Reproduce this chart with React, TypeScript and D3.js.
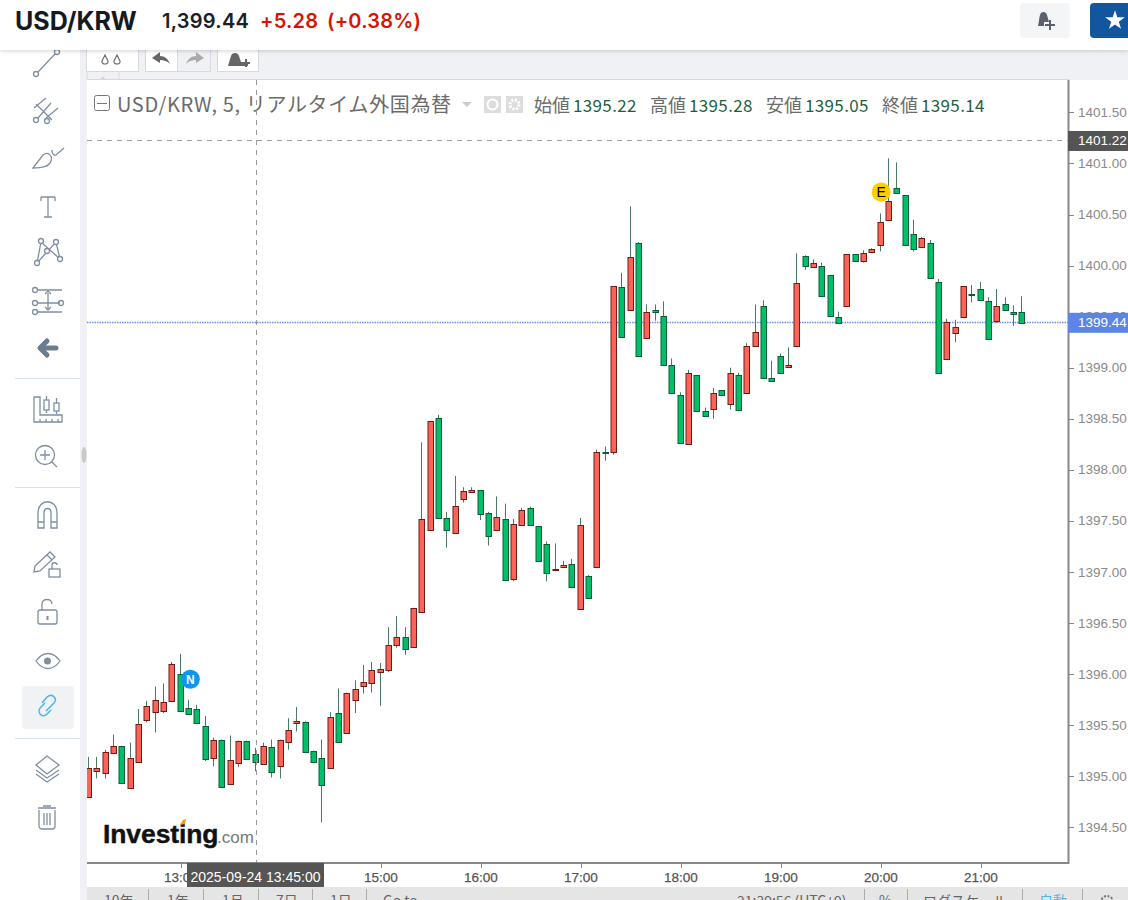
import * as d3 from 'd3';
import React from 'react';

const opens = [
  1394.80, 1395.05, 1395.03, 1395.23, 1395.30, 1394.89, 1395.14, 1395.55, 1395.63, 1395.64,
  1395.74, 1396.00, 1395.67, 1395.66, 1395.49, 1395.18, 1395.36, 1394.93, 1395.13, 1395.35,
  1395.22, 1395.12, 1395.29, 1395.10, 1395.34, 1395.52, 1395.53, 1395.25, 1395.18, 1395.08,
  1395.62, 1395.42, 1395.75, 1395.88, 1395.91, 1396.02, 1396.04, 1396.29, 1396.36, 1396.27,
  1396.61, 1397.41, 1398.51, 1397.53, 1397.38, 1397.72, 1397.78, 1397.80, 1397.58, 1397.41,
  1397.52, 1396.93, 1397.46, 1397.63, 1397.45, 1397.27, 1397.02, 1397.05, 1397.08, 1396.64,
  1396.96, 1397.05, 1398.18, 1398.18, 1399.79, 1399.57, 1400.22, 1399.29, 1399.57, 1399.51,
  1399.03, 1398.73, 1398.25, 1398.93, 1398.58, 1398.60, 1398.78, 1398.65, 1398.93, 1398.75,
  1399.21, 1399.60, 1398.90, 1399.12, 1399.01, 1399.21, 1400.09, 1399.99, 1400.00, 1399.91,
  1399.50, 1399.60, 1400.11, 1400.05, 1400.13, 1400.20, 1400.45, 1400.76, 1400.69, 1400.31,
  1400.18, 1400.22, 1399.84, 1399.09, 1399.34, 1399.50, 1399.72, 1399.77, 1399.65, 1399.46,
  1399.62, 1399.55, 1399.55,
];
const highs = [
  1395.19, 1395.19, 1395.26, 1395.41, 1395.30, 1395.33, 1395.66, 1395.74, 1395.88, 1395.91,
  1396.12, 1396.20, 1395.75, 1395.70, 1395.59, 1395.38, 1395.36, 1395.40, 1395.35, 1395.35,
  1395.28, 1395.33, 1395.36, 1395.36, 1395.57, 1395.68, 1395.54, 1395.25, 1395.36, 1395.63,
  1395.86, 1395.82, 1395.94, 1396.09, 1396.12, 1396.11, 1396.46, 1396.57, 1396.46, 1396.65,
  1398.27, 1398.48, 1398.54, 1397.59, 1397.94, 1397.83, 1397.83, 1397.80, 1397.59, 1397.74,
  1397.67, 1397.52, 1397.63, 1397.64, 1397.45, 1397.30, 1397.28, 1397.11, 1397.13, 1397.53,
  1396.97, 1398.20, 1398.23, 1399.80, 1399.93, 1400.58, 1400.23, 1399.62, 1399.62, 1399.65,
  1399.09, 1398.76, 1398.98, 1398.93, 1398.61, 1398.80, 1398.78, 1399.00, 1398.95, 1399.24,
  1399.62, 1399.66, 1399.07, 1399.14, 1399.20, 1400.12, 1400.10, 1400.06, 1400.03, 1399.91,
  1399.55, 1400.11, 1400.11, 1400.15, 1400.17, 1400.51, 1401.05, 1401.01, 1400.69, 1400.45,
  1400.28, 1400.25, 1399.87, 1399.48, 1399.47, 1399.80, 1399.81, 1399.84, 1399.69, 1399.77,
  1399.69, 1399.61, 1399.70,
];
const lows = [
  1394.80, 1394.98, 1394.98, 1395.22, 1394.93, 1394.89, 1395.14, 1395.53, 1395.43, 1395.62,
  1395.74, 1395.64, 1395.61, 1395.52, 1395.15, 1395.10, 1394.90, 1394.93, 1395.09, 1395.17,
  1395.05, 1395.12, 1394.99, 1394.98, 1395.26, 1395.44, 1395.24, 1395.13, 1394.55, 1395.08,
  1395.34, 1395.42, 1395.62, 1395.81, 1395.82, 1395.69, 1396.02, 1396.26, 1396.19, 1396.27,
  1396.61, 1397.41, 1397.53, 1397.24, 1397.38, 1397.68, 1397.78, 1397.51, 1397.26, 1397.41,
  1396.92, 1396.91, 1397.46, 1397.46, 1397.11, 1396.91, 1397.02, 1397.05, 1396.85, 1396.64,
  1396.75, 1397.05, 1398.09, 1398.15, 1399.29, 1399.57, 1399.12, 1399.29, 1399.46, 1399.03,
  1398.75, 1398.26, 1398.25, 1398.58, 1398.53, 1398.50, 1398.73, 1398.59, 1398.59, 1398.75,
  1399.21, 1398.90, 1398.87, 1398.95, 1399.01, 1399.21, 1399.96, 1399.99, 1399.70, 1399.51,
  1399.43, 1399.60, 1400.05, 1400.03, 1400.13, 1400.14, 1400.45, 1400.71, 1400.20, 1400.14,
  1400.17, 1399.88, 1398.95, 1399.09, 1399.25, 1399.50, 1399.64, 1399.66, 1399.28, 1399.44,
  1399.57, 1399.41, 1399.44,
];
const closes = [
  1395.08, 1395.08, 1395.24, 1395.30, 1394.94, 1395.18, 1395.51, 1395.69, 1395.75, 1395.73,
  1396.10, 1395.64, 1395.61, 1395.52, 1395.17, 1395.36, 1394.90, 1395.16, 1395.35, 1395.17,
  1395.14, 1395.30, 1395.04, 1395.36, 1395.45, 1395.54, 1395.24, 1395.14, 1394.92, 1395.58,
  1395.34, 1395.82, 1395.86, 1395.92, 1396.04, 1396.05, 1396.29, 1396.36, 1396.25, 1396.65,
  1397.52, 1398.48, 1397.53, 1397.41, 1397.65, 1397.79, 1397.80, 1397.57, 1397.35, 1397.54,
  1396.92, 1397.47, 1397.61, 1397.46, 1397.11, 1396.99, 1397.03, 1397.07, 1396.85, 1397.46,
  1396.75, 1398.18, 1398.17, 1399.80, 1399.30, 1400.08, 1399.12, 1399.55, 1399.55, 1399.03,
  1398.75, 1398.26, 1398.95, 1398.58, 1398.53, 1398.75, 1398.73, 1398.95, 1398.59, 1399.21,
  1399.35, 1398.90, 1398.87, 1398.95, 1399.03, 1399.83, 1400.00, 1400.03, 1399.70, 1399.51,
  1399.44, 1400.11, 1400.05, 1400.12, 1400.16, 1400.43, 1400.63, 1400.71, 1400.20, 1400.16,
  1400.27, 1399.88, 1398.95, 1399.45, 1399.40, 1399.80, 1399.71, 1399.66, 1399.28, 1399.60,
  1399.57, 1399.53, 1399.44,
];

const legendLabels = ['始値', '高値', '安値', '終値'];
const legendValues = ['1395.22', '1395.28', '1395.05', '1395.14'];
const legendX = [534, 650, 766, 882];
const rangeLabels = ['10年', '1年', '1月', '7日', '1日', 'Go to...'];
const rangeLabelX = [104, 167, 222, 276, 330, 383];
const rangeDividers = [148, 203, 258, 312, 366];
const statusDividers = [864, 907, 1022, 1082];

const currentPrice = 1399.44;
const crossPrice = 1401.22;
const day = (h: number, m = 0) => new Date(2025, 8, 24, h, m);
const crossTime = day(13, 45);
const newsTime = day(13, 0);
const earningsTime = day(20, 5);

const times = d3.timeMinute.every(5)!.range(day(12, 5), day(21, 30));

const left = 87;
const right = 1069;
const top = 80;
const bottom = 863;

const x = d3.scaleTime().domain([day(12), day(22)]).range([80.8, 1080.8]);
const y = d3.scaleLinear().domain([1394.152, 1401.817]).range([bottom, top]);
const fmtTime = d3.timeFormat('%H:%M');
const fmtFull = d3.timeFormat('%Y-%m-%d %H:%M:%S');

const UI = 'Inter, Roboto, sans-serif';
const AXIS = '"Liberation Sans", Arial, sans-serif';
const JP = '"Noto Sans CJK JP", "Noto Sans", sans-serif';
const SLATE = '#7f8fa1';

const line = { fill: 'none', stroke: SLATE, strokeWidth: 1.3 };

function SideIcons() {
  return (
    <g>
      <g {...line}>
        <path d="M38 72 L55 54" />
        <circle cx="36" cy="74" r="2.5" />
        <circle cx="57" cy="52" r="2.5" />
      </g>
      <g {...line}>
        <path d="M38 118 L51 103 M34 108 L46 98 M36 104 L52 120 M46 118 L58 108" />
        <circle cx="36" cy="120" r="2.5" />
        <circle cx="47" cy="121" r="2.5" />
      </g>
      <g {...line}>
        <path d="M33 168 L43 155 C48 151 53 156 51 161 C49 167 42 168 33 168 Z M52 150 C52 154 54 156 56 155 L64 148" />
      </g>
      <g {...line}>
        <path d="M41 197 H55 M41 197 V201 M55 197 V201 M48 197 V217 M44 217 H52" />
      </g>
      <g {...line}>
        <path d="M37 263 L41 242 L60 259 L56 242 L37 263" />
        <circle cx="37" cy="263" r="2.5" fill="#fff" />
        <circle cx="41" cy="241" r="2.5" fill="#fff" />
        <circle cx="60" cy="259" r="2.5" fill="#fff" />
        <circle cx="56" cy="242" r="2.5" fill="#fff" />
        <circle cx="47" cy="251" r="2.5" fill="#fff" />
      </g>
      <g {...line}>
        <path d="M38 290 H62 M38 303 H60 M38 312 H62 M48 293 V309" />
        <circle cx="35" cy="290" r="2.5" />
        <circle cx="35" cy="303" r="2.5" />
        <circle cx="35" cy="312" r="2.5" />
        <circle cx="61" cy="303" r="2.5" />
        <path d="M45 294 L48 291 L51 294 M45 307 L48 310 L51 307" />
      </g>
      <path d="M41 348 H56" stroke="#6a7d90" strokeWidth="5" strokeLinecap="round" />
      <path d="M47 341 L40 348 L47 355" fill="none" stroke="#6a7d90" strokeWidth="5" strokeLinecap="round" strokeLinejoin="round" />
      <g {...line}>
        <path d="M34 397 V422 H62 V415 H40 V397 Z M40 422 V419 M46 422 V419 M52 422 V419 M58 422 V419" />
        <rect x="44" y="400" width="5" height="10" />
        <rect x="54" y="403" width="5" height="8" />
        <path d="M46.5 396 V400 M46.5 410 V413 M56.5 398 V403 M56.5 411 V414" />
      </g>
      <g {...line}>
        <circle cx="45" cy="455" r="9.5" />
        <path d="M52 462 L57 467 M40 455 H50 M45 450 V460" />
      </g>
      <g {...line}>
        <path d="M38 528 V513 C38 498 57 498 57 513 V528 H51 V513 C51 507 44 507 44 513 V528 Z M38 522 H44 M51 522 H57" />
      </g>
      <g {...line}>
        <path d="M35 566 L50 552 L55 557 L40 571 L34 572 Z M47 555 L52 560" />
        <rect x="49" y="569" width="11" height="8" />
        <path d="M52 569 V565 C52 562 57 562 57 565" />
      </g>
      <g {...line}>
        <rect x="38" y="610" width="19" height="14" rx="2" />
        <path d="M42 610 V604 C42 598 52 598 52 604" />
      </g>
      <rect x="46.5" y="616" width="2" height="4" fill={SLATE} />
      <g {...line}>
        <path d="M36 661 C43 651 53 651 60 661 C53 671 43 671 36 661 Z" />
      </g>
      <circle cx="47.5" cy="661" r="3.5" fill={SLATE} />
      <rect x="22" y="686" width="52" height="43" rx="3" fill="#f1f2f4" />
      <g fill="none" stroke="#4db4ec" strokeWidth="1.5">
        <path d="M45 703 L41 707 C36 712 42 719 47 714 L51 710" />
        <path d="M46 711 L54 703 C58 698 52 693 47 697 L42 703" />
      </g>
      <g {...line}>
        <path d="M47 756 L59 765 L47 774 L36 765 Z M36 770 L47 778 L59 770 M36 774 L47 782 L59 774" />
      </g>
      <g {...line}>
        <path d="M39 810 V826 C39 828 41 829 42 829 H52 C54 829 55 828 55 826 V810 M38 808 H56 M43 806 H51 M44 813 V825 M47 813 V825 M50 813 V825" />
      </g>
    </g>
  );
}

function Header() {
  return (
    <g>
      <rect x="0" y="0" width="1128" height="50" fill="#fff" filter="url(#barShadow)" />
      <text x="15" y="30" fontFamily={UI} fontSize="25" fontWeight="700" fill="#141a20">USD/KRW</text>
      <text x="162" y="28" fontFamily={UI} fontSize="20" fontWeight="600" letterSpacing="0.25" fill="#1c2026">1,399.44</text>
      <text x="260" y="28" fontFamily={UI} fontSize="20" fontWeight="600" letterSpacing="0.2" fill="#d91400">+5.28</text>
      <text x="327" y="28" fontFamily={UI} fontSize="20" fontWeight="600" letterSpacing="0.2" fill="#d91400">(+0.38%)</text>
      <rect x="1020" y="3" width="50" height="35" rx="4" fill="#f4f5f6" />
      <path d="M1038 26 C1039 22 1039 18 1040 15 C1041 11 1046 11 1047 15 L1049 22 L1044 22 V26 Z" fill="#5a6070" />
      <path d="M1045 25 H1055 M1050 20 V30" stroke="#5a6070" strokeWidth="2" />
      <rect x="1090" y="3" width="60" height="35" rx="4" fill="#1256a0" />
      <path d={d3.symbol(d3.symbolStar, 120)() || ''} transform="translate(1115,20.5)" fill="#fff" />
    </g>
  );
}

function Toolbar() {
  return (
    <g>
      <rect x="80" y="50" width="1048" height="30" fill="#f0f1f5" />
      <rect x="80" y="50" width="7" height="850" fill="#f0f1f5" />
      <g fill="#fff" stroke="#d8dade">
        <rect x="86.5" y="44" width="52" height="27.5" />
        <rect x="145.5" y="44" width="32" height="27.5" />
        <rect x="177.5" y="44" width="33" height="27.5" fill="#f0f1f5" />
        <rect x="217.5" y="44" width="41" height="27.5" />
        <path d="M87 72 V80 M119 72 V80" fill="none" />
      </g>
      <path d="M100 80 L103 76 L106 80 Z" fill="#d4d6da" />
      <path d="M105 55 L102 61 C101 65 109 65 108 61 Z M117 55 L114 61 C113 65 121 65 120 61 Z" fill="none" stroke="#6d6d6d" strokeWidth="1.2" />
      <path d="M152 58 L160 52 V56 C165 56 168 59 170 64 C167 61 164 60 160 60 V63 Z" fill="#666" />
      <path d="M204 58 L196 52 V56 C191 56 188 59 186 64 C189 61 192 60 196 60 V63 Z" fill="#aaa" />
      <path d="M228 66 L231 56 C232 52 238 52 239 56 L241 62 H248 V66 Z" fill="#666" />
      <path d="M242 63 H250 M246 59 V67" stroke="#666" strokeWidth="2" />
    </g>
  );
}

function Candles() {
  return (
    <g clipPath="url(#plot)">
      {times.map((t, i) => {
        const cx = Math.round(x(t)) - 0.5;
        const up = closes[i] >= opens[i];
        const y0 = Math.round(y(Math.max(opens[i], closes[i]))) + 0.5;
        const y1 = Math.round(y(Math.min(opens[i], closes[i]))) + 0.5;
        return (
          <g key={i}>
            <line x1={cx} x2={cx} y1={y(highs[i])} y2={y(lows[i])} stroke="#4a7a63" />
            <rect
              x={cx - 2.5}
              y={y0}
              width={5.5}
              height={Math.max(y1 - y0, 1)}
              fill={up ? '#ff6358' : '#00c067'}
              stroke={up ? '#6e1c17' : '#0b5c38'}
            />
          </g>
        );
      })}
    </g>
  );
}

function App() {
  const ticks = y.ticks(15);
  const hours = x.ticks(d3.timeHour.every(1)!).filter(t => x(t) > left && x(t) < right);
  return (
    <svg width="1128" height="900" style={{ position: 'fixed', left: 0, top: 0, background: '#fff' }}>
      <defs>
        <clipPath id="plot">
          <rect x={left} y={top} width={right - left} height={bottom - top} />
        </clipPath>
        <filter id="barShadow" x="-5%" y="-20%" width="110%" height="150%">
          <feDropShadow dx="0" dy="1" stdDeviation="2" floodColor="#000" floodOpacity="0.18" />
        </filter>
      </defs>

      <Toolbar />
      <rect x={left} y={top} width={right - left} height={bottom - top} fill="#fff" />
      <path d={`M${left} ${top - 0.5} H${right}`} stroke="#d6d8dc" />

      {/* side tools */}
      <SideIcons />
      {[378, 487, 738].map(s => (
        <path key={s} d={`M15 ${s + 0.5} H80`} stroke="#d5e3ec" />
      ))}
      <ellipse cx="84" cy="455" rx="2.5" ry="8" fill="#c9c9c9" />

      {/* legend */}
      <rect x="94.5" y="95.5" width="15" height="15" rx="2" fill="none" stroke="#777" />
      <path d="M97 103.5 H107" stroke="#777" />
      <text x="117" y="112" fontFamily={JP} fontSize="20" letterSpacing="0.65" fill="#6b6b6b">USD/KRW, 5, リアルタイム外国為替</text>
      <path d="M462 102 H472 L467 107 Z" fill="#ccc" />
      <rect x="484" y="96" width="17" height="17" fill="#ddd" />
      <circle cx="492.5" cy="104.5" r="5" fill="none" stroke="#fff" strokeWidth="2" />
      <rect x="506" y="96" width="17" height="17" fill="#ddd" />
      <circle cx="514.5" cy="104.5" r="4.5" fill="none" stroke="#fff" strokeWidth="3" strokeDasharray="2 1.5" />
      {legendLabels.map((label, i) => (
        <g key={label}>
          <text x={legendX[i]} y="112" fontFamily={JP} fontSize="18" fill="#6b6b6b">{label}</text>
          <text x={legendX[i] + 39} y="112" fontFamily={JP} fontSize="17" letterSpacing="0.35" fill="#1f5f3f">{legendValues[i]}</text>
        </g>
      ))}

      {/* crosshair and current price, under the candles */}
      <line x1={left} x2={right} y1={Math.floor(y(currentPrice)) + 0.5} y2={Math.floor(y(currentPrice)) + 0.5} stroke="#6f8fe8" strokeWidth="1.4" strokeDasharray="1.5 1" />
      <Candles />
      <line x1={left} x2={right} y1={Math.floor(y(crossPrice)) + 0.5} y2={Math.floor(y(crossPrice)) + 0.5} stroke="#a0a0a0" strokeDasharray="5 5" />
      <line x1={Math.round(x(crossTime)) + 0.5} x2={Math.round(x(crossTime)) + 0.5} y1={top} y2={bottom} stroke="#999" strokeDasharray="5 5" />

      {/* event markers */}
      <circle cx={x(newsTime) + 9.5} cy={y(1395.95)} r="9.5" fill="#0d96f0" />
      <text x={x(newsTime) + 9.5} y={y(1395.95) + 4.5} textAnchor="middle" fontFamily={AXIS} fontSize="12" fontWeight="700" fill="#fff">N</text>
      <circle cx={x(earningsTime) - 8} cy={y(1400.72)} r="9.5" fill="#ffcc00" />
      <text x={x(earningsTime) - 8} y={y(1400.72) + 5} textAnchor="middle" fontFamily={AXIS} fontSize="14" fill="#000">E</text>

      {/* logo */}
      <text x="103" y="843" fontFamily={AXIS} fontSize="26.5" fontWeight="700" letterSpacing="-0.1" stroke="#111" strokeWidth="0.4" fill="#111">Investing</text>
      <text x="217" y="843" fontFamily={AXIS} fontSize="17" fill="#777">.com</text>
      <path d="M180 825 L183 820 L186 819 L185 824 Z" fill="#f90" />

      {/* price axis */}
      <path d={`M${right - 0.5} ${top} V${bottom + 1}`} stroke="#888" strokeWidth="2" />
      {ticks.map(t => (
        <g key={t}>
          <path d={`M${right} ${Math.round(y(t)) + 0.5} h5`} stroke="#888" />
          <text x="1078" y={y(t) + 4.5} fontFamily={AXIS} fontSize="13.5" fill="#8a8a8a">{t.toFixed(2)}</text>
        </g>
      ))}
      <rect x={right - 1} y={y(crossPrice) - 10} width={60} height={20} fill="#555" />
      <text x="1078" y={y(crossPrice) + 4.5} fontFamily={AXIS} fontSize="13.5" fill="#fff">{crossPrice.toFixed(2)}</text>
      <rect x={right - 1} y={y(currentPrice) - 10} width={60} height={20} fill="#5c85e6" />
      <text x="1078" y={y(currentPrice) + 4.5} fontFamily={AXIS} fontSize="13.5" fill="#fff">{currentPrice.toFixed(2)}</text>

      {/* time axis */}
      <path d={`M${left} ${bottom} H${right}`} stroke="#888" strokeWidth="2" />
      {hours.map(t => (
        <g key={+t}>
          <path d={`M${Math.round(x(t)) + 0.5} ${bottom} v5`} stroke="#888" />
          <text x={x(t)} y={bottom + 19} textAnchor="middle" fontFamily={AXIS} fontSize="13.5" stroke="#555" strokeWidth="0.25" fill="#555">{fmtTime(t)}</text>
        </g>
      ))}
      <rect x="187" y={bottom} width="137" height="24" fill="#555" />
      <text x={255.5} y={bottom + 19} textAnchor="middle" fontFamily={AXIS} fontSize="14" fill="#fff">{fmtFull(crossTime)}</text>

      {/* range bar, cut by the window */}
      <rect x="87" y="887" width="1041" height="13" fill="#e5e5e5" />
      {rangeLabels.map((label, i) => (
        <text key={label} x={rangeLabelX[i]} y="906" fontFamily={JP} fontSize="14" fill="#666">{label}</text>
      ))}
      {rangeDividers.concat(statusDividers).map(d => (
        <path key={d} d={`M${d + 0.5} 889 V900`} stroke="#aaa" />
      ))}
      <text x="737" y="906" fontFamily={JP} fontSize="14" fill="#666">21:39:56 (UTC+9)</text>
      <text x="879" y="906" fontFamily={JP} fontSize="14" fill="#666">%</text>
      <text x="923" y="906" fontFamily={JP} fontSize="14" fill="#666">ログスケール</text>
      <text x="1039" y="906" fontFamily={JP} fontSize="14" fill="#4db4ec">自動</text>
      <circle cx="1107" cy="902" r="6" fill="none" stroke="#777" strokeWidth="2" strokeDasharray="2 1.5" />

      <Header />
    </svg>
  );
}

export default App;
